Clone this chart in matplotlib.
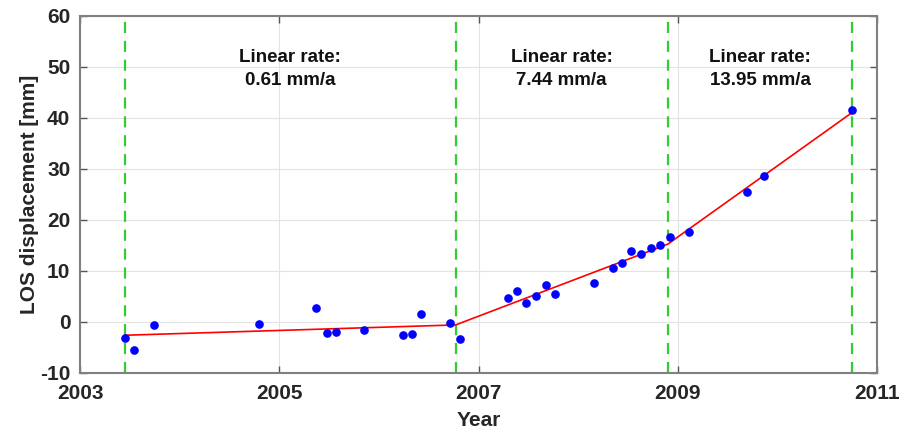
import numpy as np
import matplotlib.pyplot as plt

plt.rcParams['font.family'] = ['Liberation Sans', 'DejaVu Sans']
plt.rcParams['font.weight'] = 'bold'
plt.rcParams['axes.unicode_minus'] = False

# LOS displacement observations (decimal year, mm)
years = [2003.454, 2003.545, 2003.743, 2004.796, 2005.370, 2005.476, 2005.566,
         2005.850, 2006.240, 2006.330, 2006.420, 2006.710, 2006.810,
         2007.295, 2007.390, 2007.480, 2007.580, 2007.675, 2007.765,
         2008.155, 2008.350, 2008.440, 2008.535, 2008.635, 2008.730,
         2008.820, 2008.925, 2009.110, 2009.690, 2009.870, 2010.750]
disp = [-3.06, -5.55, -0.65, -0.39, 2.75, -2.20, -1.96,
        -1.50, -2.60, -2.40, 1.60, -0.20, -3.26,
        4.78, 6.15, 3.67, 5.04, 7.25, 5.49,
        7.70, 10.66, 11.57, 14.00, 13.33, 14.45,
        15.10, 16.67, 17.60, 25.40, 28.57, 41.60]

# segment boundaries and fitted rates
breaks = [2003.454, 2006.77, 2008.90, 2010.75]
rates = [0.61, 7.44, 13.95]
start_value = -2.6

# piecewise linear fit built from the rates
fit_y = [start_value]
for i, r in enumerate(rates):
    fit_y.append(fit_y[-1] + r * (breaks[i + 1] - breaks[i]))

fig = plt.figure(figsize=(9, 4.37), dpi=100)
ax = fig.add_axes([0.0889, 0.1465, 0.8856, 0.8169])

ax.grid(True, color='#e3e3e3', linewidth=0.8)
ax.set_axisbelow(True)

for b in breaks:
    ax.axvline(b, color='#33cc33', linestyle=(0, (5, 3.5)), linewidth=1.6, zorder=2)

ax.plot(breaks, fit_y, color='red', linewidth=1.2, zorder=3)
ax.plot(years, disp, 'o', color='blue', markersize=5.2, zorder=4)

for i, r in enumerate(rates):
    xc = (breaks[i] + breaks[i + 1]) / 2
    ax.text(xc, 49.6, 'Linear rate:\n%.2f mm/a' % r, ha='center', va='center',
            fontsize=13.5, fontweight='bold', linespacing=1.5, color='#111111')

ax.set_xlim(2003, 2011)
ax.set_ylim(-10, 60)
ax.set_xticks([2003, 2005, 2007, 2009, 2011])
ax.set_yticks(np.arange(-10, 61, 10))
ax.tick_params(direction='in', length=5, width=1, color='#555555',
               labelsize=15, labelcolor='#262626', top=True, right=True)
ax.tick_params(axis='x', pad=8)
ax.tick_params(axis='y', pad=7)
for lab in ax.get_xticklabels() + ax.get_yticklabels():
    lab.set_fontweight('bold')
for s in ax.spines.values():
    s.set_color('#808080')
    s.set_linewidth(1.5)

ax.set_xlabel('Year', fontsize=15, fontweight='bold', color='#262626', labelpad=6)
ax.set_ylabel('LOS displacement [mm]', fontsize=15, fontweight='bold', color='#262626', labelpad=1)

fig.savefig('out.png', dpi=100)
